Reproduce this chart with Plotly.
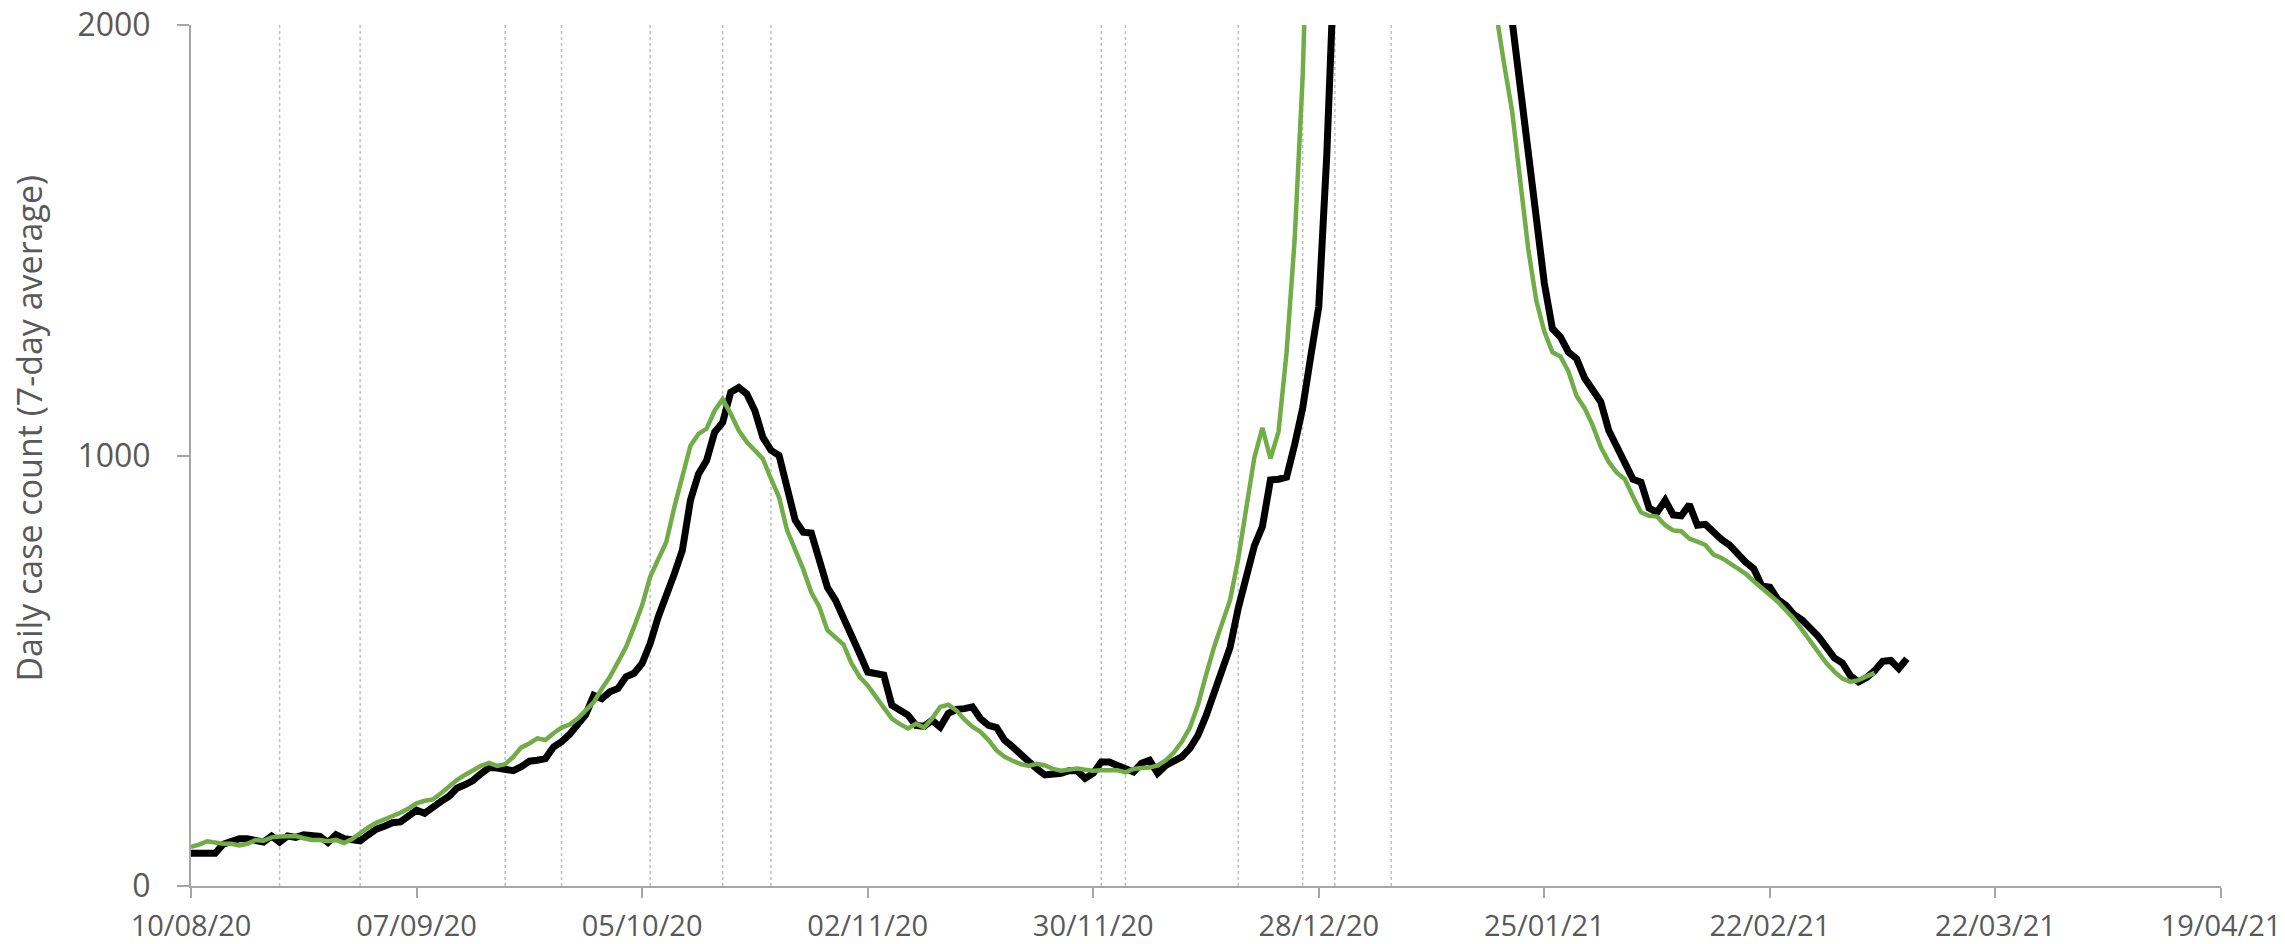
import datetime as dt
import pandas as pd
import plotly.graph_objects as go

# ---------------- data ----------------
start_date = "2020-08-10"

# 7-day average daily case count, by reported date (black)
reported = [
    76, 76, 76, 76, 97, 104, 110, 110, 104, 102,
    116, 102, 116, 113, 119, 117, 115, 101, 119, 110,
    107, 105, 119, 132, 139, 147, 149, 161, 176, 169,
    184, 196, 208, 227, 235, 245, 261, 275, 274, 271,
    268, 277, 290, 292, 296, 323, 335, 352, 378, 398,
    443, 435, 451, 459, 486, 494, 517, 563, 625, 671,
    725, 780, 896, 957, 988, 1054, 1077, 1147, 1158, 1143,
    1104, 1042, 1012, 1000, 919, 850, 822, 820, 757, 694,
    664, 625, 586, 540, 497, 492, 490, 420, 408, 397,
    373, 371, 385, 369, 401, 410, 412, 416, 389, 373,
    368, 339, 323, 305, 290, 272, 258, 258, 262, 268,
    268, 250, 262, 288, 288, 280, 272, 265, 285, 292,
    262, 280, 290, 300, 320, 350, 395, 445, 505, 555,
    645, 720, 790, 835, 943, 945, 950, 1025, 1110, 1230,
    1346, 1700, 2300, 3000, 3700, 4300, 4900, 5500, 5900, 6200,
    6450, 6550, 6500, 6300, 6000, 5500, 5000, 4500, 4000, 3500,
    3100, 2750, 2450, 2200, 2010, 1860, 1700, 1550, 1400, 1295,
    1275, 1240, 1225, 1180, 1150, 1125, 1058, 1020, 988, 945,
    938, 878, 868, 896, 862, 860, 886, 838, 840, 822,
    805, 792, 770, 752, 737, 697, 694, 665, 652, 630,
    618, 600, 580, 555, 530, 518, 488, 474, 484, 500,
    522, 524, 505, 528,
]

# 7-day average daily case count, by specimen date (green)
specimen = [
    91, 96, 104, 100, 98, 98, 94, 98, 107, 105,
    113, 115, 115, 116, 111, 107, 107, 104, 107, 100,
    109, 124, 136, 147, 155, 161, 170, 180, 192, 198,
    201, 215, 232, 246, 258, 269, 279, 286, 279, 283,
    300, 322, 331, 343, 339, 355, 368, 375, 389, 408,
    427, 458, 486, 520, 555, 602, 652, 718, 756, 799,
    880, 954, 1023, 1050, 1062, 1104, 1131, 1097, 1058, 1031,
    1012, 992, 946, 903, 826, 780, 736, 682, 648, 594,
    576, 561, 517, 486, 466, 439, 412, 389, 376, 366,
    377, 368, 389, 416, 421, 408, 387, 370, 358, 339,
    315, 300, 291, 283, 279, 284, 280, 272, 268, 271,
    273, 270, 268, 269, 270, 269, 264, 272, 274, 275,
    280, 292, 310, 335, 368, 420, 490, 555, 610, 665,
    760, 880, 995, 1064, 993, 1055, 1239, 1500, 1880, 2500,
    3200, 3900, 4600, 5200, 5800, 6300, 6600, 6800, 6750, 6500,
    6100, 5600, 5000, 4400, 3900, 3400, 3000, 2700, 2450, 2300,
    2200, 2110, 2030, 1910, 1800, 1640, 1480, 1360, 1288, 1240,
    1230, 1195, 1138, 1110, 1070, 1020, 985, 960, 945, 905,
    868, 860, 858, 838, 826, 824, 807, 800, 792, 770,
    762, 750, 737, 725, 708, 692, 677, 660, 640, 620,
    595, 570, 543, 518, 498, 482, 474, 478, 487, 495,
]

tick_labels = ["10/08/20", "07/09/20", "05/10/20", "02/11/20", "30/11/20",
               "28/12/20", "25/01/21", "22/02/21", "22/03/21", "19/04/21"]

event_dates = ["21/08/20", "31/08/20", "18/09/20", "25/09/20", "06/10/20",
               "15/10/20", "21/10/20", "01/12/20", "04/12/20", "18/12/20",
               "26/12/20", "30/12/20", "06/01/21"]

y_ticks = [0, 1000, 2000]
y_title = "Daily case count (7-day average)"

# ---------------- figure ----------------
def parse(s):
    return dt.datetime.strptime(s, "%d/%m/%y")

dates_rep = pd.date_range(start=start_date, periods=len(reported), freq="D")
dates_spec = pd.date_range(start=start_date, periods=len(specimen), freq="D")
tick_vals = [parse(s) for s in tick_labels]

fig = go.Figure()
fig.add_trace(go.Scatter(x=dates_rep, y=reported, mode="lines",
                         line=dict(color="#000000", width=7),
                         showlegend=False))
fig.add_trace(go.Scatter(x=dates_spec, y=specimen, mode="lines",
                         line=dict(color="#70AD47", width=4.5),
                         showlegend=False))

for s in event_dates:
    d = parse(s)
    fig.add_shape(type="line", xref="x", yref="y", x0=d, x1=d,
                  y0=y_ticks[0], y1=y_ticks[-1], layer="below",
                  line=dict(color="#BFBFBF", width=1.5, dash="dot"))

axis_col = "#A6A6A6"
lab_col = "#595959"

fig.update_layout(
    width=2285, height=944,
    margin=dict(l=191, r=64, t=25, b=58, pad=0, autoexpand=False),
    paper_bgcolor="white", plot_bgcolor="white",
    font=dict(family="Open Sans, Liberation Sans, sans-serif", color=lab_col),
    showlegend=False,
    annotations=[dict(text=y_title, xref="paper", yref="paper",
                      x=-0.080, y=0.532, xanchor="center", yanchor="middle",
                      textangle=-90, showarrow=False,
                      font=dict(size=34, color=lab_col,
                                family="Open Sans, sans-serif"))],
)
fig.update_xaxes(
    type="date", range=[tick_vals[0], tick_vals[-1]],
    tickmode="array", tickvals=tick_vals, ticktext=tick_labels,
    showgrid=False, zeroline=False, automargin=False,
    showline=True, linecolor=axis_col, linewidth=2,
    ticks="outside", ticklen=10, tickwidth=2, tickcolor=axis_col,
    tickfont=dict(size=29, color=lab_col), ticklabelstandoff=3,
)
fig.update_yaxes(
    range=[y_ticks[0], y_ticks[-1]],
    tickmode="array", tickvals=y_ticks, ticktext=[str(v) for v in y_ticks],
    showgrid=False, zeroline=False, automargin=False,
    showline=True, linecolor=axis_col, linewidth=2,
    ticks="outside", ticklen=12, tickwidth=2, tickcolor=axis_col,
    tickfont=dict(size=32, color=lab_col), ticklabelstandoff=20,
)

fig.write_html("out.html", config={"displayModeBar": False},
               post_script="document.body.style.margin='0';")
